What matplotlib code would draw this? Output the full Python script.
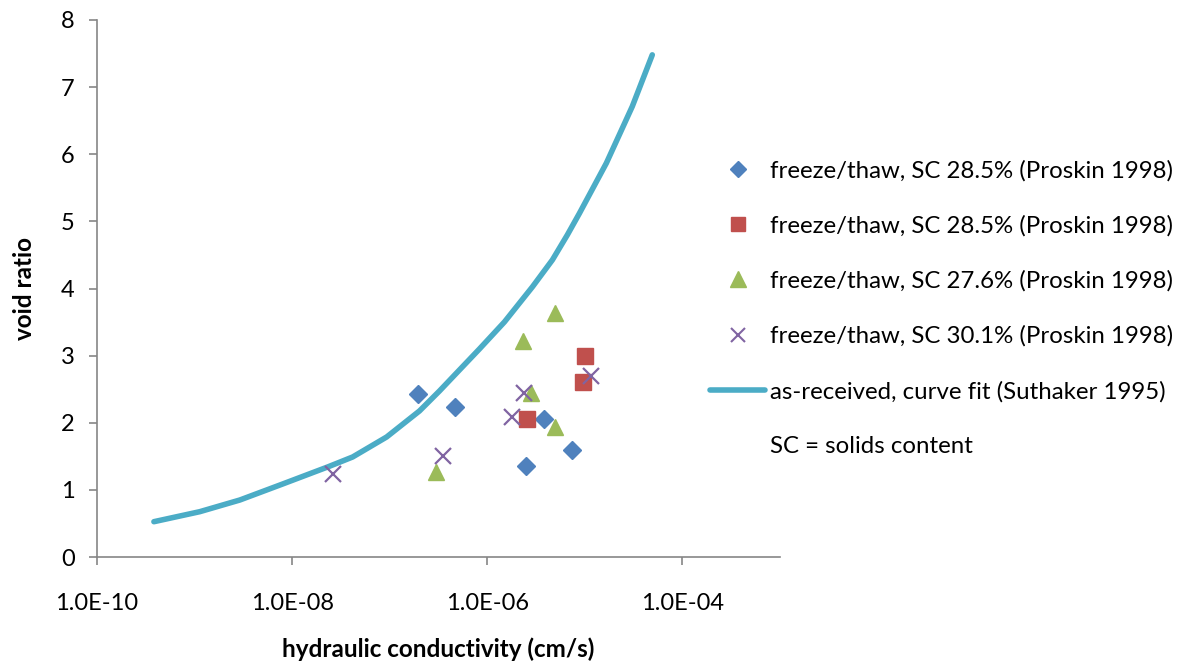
import matplotlib
matplotlib.use("Agg")
import matplotlib.pyplot as plt
from matplotlib.lines import Line2D

plt.rcParams['font.family'] = ['Lato', 'DejaVu Sans']

# Data
blue_k = [1.93e-7, 4.72e-7, 3.78e-6, 2.52e-6, 7.33e-6]
blue_e = [2.43, 2.24, 2.05, 1.36, 1.60]

red_k = [1.0e-5, 9.5e-6, 2.54e-6]
red_e = [3.00, 2.60, 2.05]

green_k = [4.95e-6, 2.31e-6, 2.81e-6, 4.9e-6, 3.0e-7]
green_e = [3.64, 3.22, 2.44, 1.93, 1.27]

purple_k = [2.62e-8, 3.5e-7, 1.78e-6, 2.4e-6, 1.16e-5]
purple_e = [1.23, 1.51, 2.08, 2.44, 2.69]

curve_k = [3.83e-10, 1.13e-9, 2.91e-9, 8.01e-9, 2.31e-8, 4.17e-8, 9.30e-8,
           2.02e-7, 3.24e-7, 5.19e-7, 8.32e-7, 1.50e-6, 2.90e-6, 4.65e-6,
           6.62e-6, 8.79e-6, 1.66e-5, 3.06e-5, 4.91e-5]
curve_e = [0.526, 0.675, 0.849, 1.088, 1.341, 1.490, 1.788,
           2.176, 2.474, 2.787, 3.100, 3.502, 4.024, 4.426,
           4.799, 5.119, 5.867, 6.711, 7.481]

labels = ["freeze/thaw, SC 28.5% (Proskin 1998)",
          "freeze/thaw, SC 28.5% (Proskin 1998)",
          "freeze/thaw, SC 27.6% (Proskin 1998)",
          "freeze/thaw, SC 30.1% (Proskin 1998)",
          "as-received, curve fit (Suthaker 1995)",
          "SC = solids content"]

xticks = [1e-10, 1e-8, 1e-6, 1e-4]
xticklabels = ["1.0E-10", "1.0E-08", "1.0E-06", "1.0E-04"]

fig = plt.figure(figsize=(11.92, 6.69), dpi=100)
ax = fig.add_axes([97/1192, 1-557/669, (780-97)/1192, (557-20)/669])

ax.plot(curve_k, curve_e, color='#4BACC6', lw=4, solid_capstyle='round',
        solid_joinstyle='round', zorder=2)
ax.plot(blue_k, blue_e, 'D', color='#4F81BD', ms=9, ls='none', zorder=3)
ax.plot(red_k, red_e, 's', color='#C0504D', ms=11, ls='none', zorder=3)
ax.plot(green_k, green_e, '^', color='#9BBB59', ms=12, ls='none', zorder=3)
ax.plot(purple_k, purple_e, 'x', color='#8064A2', ms=11, mew=1.6, ls='none', zorder=4)

ax.set_xscale('log')
ax.set_xlim(1e-10, 1e-3)
ax.set_ylim(0, 8)
ax.set_xticks(xticks)
ax.set_xticklabels(xticklabels)
ax.minorticks_off()
ax.set_yticks(range(0, 9))

for s in ['top', 'right']:
    ax.spines[s].set_visible(False)
for s in ['left', 'bottom']:
    ax.spines[s].set_color('#868686')
    ax.spines[s].set_linewidth(1.2)
ax.tick_params(axis='both', colors='#868686', labelcolor='black', labelsize=17,
               length=6, width=1.2, direction='out')
ax.tick_params(axis='x', pad=20)
ax.tick_params(axis='y', pad=10)

ax.set_xlabel("hydraulic conductivity (cm/s)", fontsize=17.5, fontweight='bold', labelpad=17)
ax.set_ylabel("void ratio", fontsize=17.5, fontweight='bold', labelpad=18)

handles = [
    Line2D([], [], marker='D', color='#4F81BD', ls='none', ms=8),
    Line2D([], [], marker='s', color='#C0504D', ls='none', ms=10),
    Line2D([], [], marker='^', color='#9BBB59', ls='none', ms=11),
    Line2D([], [], marker='x', color='#8064A2', ls='none', ms=10, mew=1.5),
    Line2D([], [], color='#4BACC6', lw=4, solid_capstyle='round'),
    Line2D([], [], color='none'),
]
leg = fig.legend(handles, labels, loc='upper left', bbox_to_anchor=(710/1192, 1-160/669),
                 frameon=False, fontsize=17.3, handlelength=2.3, handletextpad=0.2,
                 labelspacing=1.4, borderaxespad=0, borderpad=0)

fig.savefig("out.png", dpi=100)
